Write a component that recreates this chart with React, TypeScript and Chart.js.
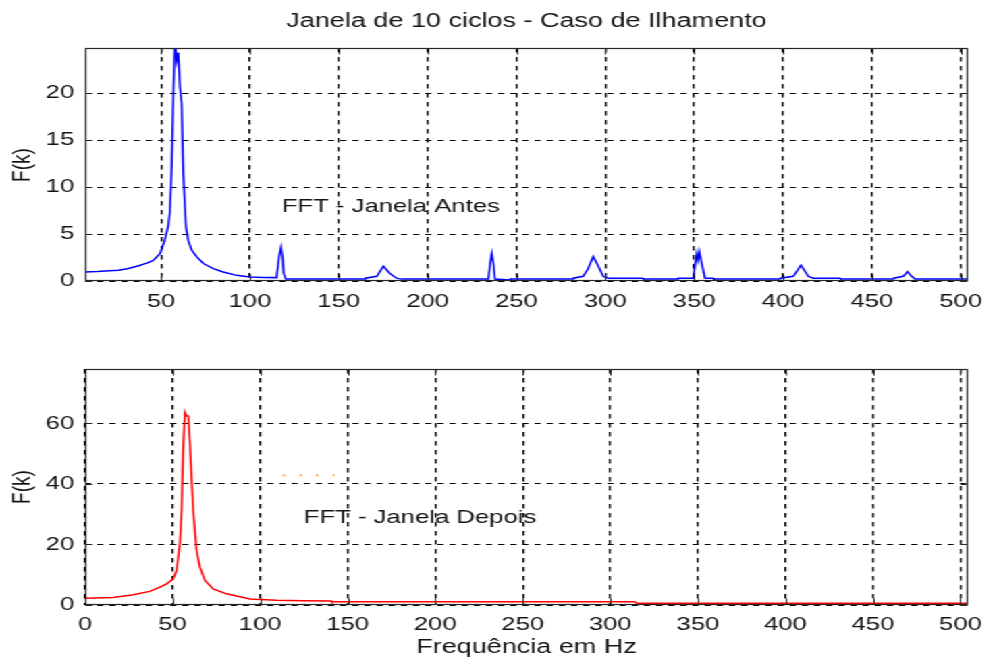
import React, { useEffect, useRef } from "react";
import { Chart, registerables } from "chart.js";

Chart.register(...registerables);

// ---------- data ----------
const chartTitle = "Janela de 10 ciclos - Caso de Ilhamento";
const xAxisLabel = "Frequência em Hz";
const yAxisLabel = "F(k)";
const noteAntes = "FFT - Janela Antes";
const noteDepois = "FFT - Janela Depois";

const xTickStep = 50;
const yTickStepAntes = 5;
const yTickStepDepois = 20;

const freqAntes = [
  7.2, 14, 21, 26, 31, 37, 42, 45.6, 49.4, 52, 54, 55, 56, 57, 57.8, 58.8, 59.7, 60.6, 61.6, 62.5,
  64, 65.3, 67.2, 70, 73.8, 79.4, 85, 92.5, 100, 108, 115, 116.4, 117.5, 118.4, 119, 120.2,
  164.8, 165, 171.4, 175.1, 178.8, 182.5, 185.3,
  234.2, 235.2, 236.1, 237.0, 237.9, 246, 246.5,
  281.9, 282, 287.5, 290.3, 293.2, 296, 298.8, 301.6, 321, 321.5,
  340.8, 341, 349.5, 351.4, 352.2, 352.9, 354.2, 356.1, 360.8, 361,
  398.3, 398.5, 405.8, 410.1, 414.2, 417, 432, 432.5,
  462.1, 462.3, 467.7, 470, 472.4, 474.3, 504.1,
];
const magAntes = [
  0.96, 1.0, 1.1, 1.15, 1.3, 1.6, 1.9, 2.2, 2.9, 4.3, 5.8, 7.4, 12.2, 20.7, 25.5, 23.4, 24.3, 20.7, 18.9, 11.5,
  5.8, 4.3, 3.3, 2.6, 1.86, 1.32, 0.96, 0.6, 0.43, 0.38, 0.36, 2.56, 3.6, 2.5, 0.8, 0.2,
  0.2, 0.3, 0.5, 1.57, 0.8, 0.3, 0.2,
  0.2, 1.9, 2.9, 1.9, 0.2, 0.1, 0.2,
  0.2, 0.3, 0.5, 1.3, 2.6, 1.6, 0.5, 0.3, 0.3, 0.2,
  0.2, 0.3, 0.3, 2.9, 2.2, 3.1, 1.9, 0.3, 0.3, 0.2,
  0.2, 0.3, 0.5, 1.68, 0.5, 0.3, 0.3, 0.2,
  0.2, 0.3, 0.5, 1.0, 0.5, 0.2, 0.2,
];

const freqDepois = [
  0, 16, 27.6, 37, 42.8, 46.6, 50.4, 52.3, 54.2, 55.2, 56.1, 57.1, 58, 59, 59.9, 60.9, 61.8,
  63.7, 65.6, 68.5, 73.2, 80.8, 94.2, 109.4, 125, 140.8, 141, 314, 315, 504.3,
];
const magDepois = [
  2.2, 2.5, 3.4, 4.5, 5.9, 7, 8.7, 11.4, 20.3, 31.4, 52.5, 63.7, 62.5, 62.5, 53.7, 41.4, 31.4,
  18.1, 12.5, 8.1, 5.3, 3.7, 2.0, 1.6, 1.4, 1.3, 1.05, 1.05, 0.6, 0.6,
];

const freqArtefato = [113, 142.5];
const magArtefato = [42.9, 42.9];

// ---------- layout (final px are divided by the horizontal stretch) ----------
const K = 1.35;
const W = 728;
const FONT = "'Liberation Sans', Arial, sans-serif";
const INK = "#141414";

const toPts = (xs: number[], ys: number[]) => xs.map((x, i) => ({ x, y: ys[i] }));

function decorPlugin(o: {
  note: string;
  noteX: number;
  noteY: number;
  labelY: number;
  title?: string;
  titleY?: number;
  xLabel?: string;
  xLabelY?: number;
}) {
  return {
    id: "decor",
    afterDatasetsDraw(chart: any) {
      const { ctx, chartArea: a, scales } = chart;
      const xs = scales.x;
      const ys = scales.y;
      ctx.save();
      ctx.fillStyle = INK;
      ctx.font = `19px ${FONT}`;
      ctx.textAlign = "left";
      ctx.textBaseline = "middle";
      ctx.fillText(o.note, xs.getPixelForValue(o.noteX), ys.getPixelForValue(o.noteY));

      // box
      ctx.setLineDash([]);
      ctx.strokeStyle = "#262626";
      ctx.lineWidth = 1.2;
      const L = Math.round(a.left) + 0.5;
      const R = Math.round(a.right) - 0.5;
      const T = Math.round(a.top) + 0.5;
      const B = Math.round(a.bottom) - 0.5;
      ctx.strokeRect(L, T, R - L, B - T);

      // inward ticks on all sides
      ctx.lineWidth = 1;
      ctx.beginPath();
      for (const t of xs.ticks) {
        const p = Math.round(xs.getPixelForValue(t.value)) + 0.5;
        ctx.moveTo(p, B);
        ctx.lineTo(p, B - 6);
        ctx.moveTo(p, T);
        ctx.lineTo(p, T + 6);
      }
      for (const t of ys.ticks) {
        const p = Math.round(ys.getPixelForValue(t.value)) + 0.5;
        ctx.moveTo(L, p);
        ctx.lineTo(L + 5, p);
        ctx.moveTo(R, p);
        ctx.lineTo(R - 5, p);
      }
      ctx.stroke();

      // y label
      ctx.save();
      ctx.translate(22 / K, o.labelY);
      ctx.rotate(-Math.PI / 2);
      ctx.textAlign = "center";
      ctx.textBaseline = "middle";
      ctx.font = `19px ${FONT}`;
      ctx.fillText(yAxisLabel, 0, 0);
      ctx.restore();

      const cx = (a.left + a.right) / 2;
      if (o.title) {
        ctx.textAlign = "center";
        ctx.textBaseline = "middle";
        ctx.font = `20px ${FONT}`;
        ctx.fillText(o.title, cx, o.titleY);
      }
      if (o.xLabel) {
        ctx.textAlign = "center";
        ctx.textBaseline = "middle";
        ctx.font = `20px ${FONT}`;
        ctx.fillText(o.xLabel, cx, o.xLabelY);
      }
      ctx.restore();
    },
  };
}

function makeConfig(p: {
  datasets: any[];
  xMin: number;
  xMax: number;
  yMax: number;
  yStep: number;
  top: number;
  xAxisHeight: number;
  xPad: number;
  plugin: any;
}) {
  return {
    type: "line" as const,
    data: { datasets: p.datasets },
    options: {
      animation: false as const,
      responsive: false,
      devicePixelRatio: 1,
      layout: { padding: { left: 0, right: W - 968 / K, top: p.top, bottom: 0 } },
      plugins: { legend: { display: false }, tooltip: { enabled: false }, title: { display: false } },
      elements: { point: { radius: 0 }, line: { tension: 0 } },
      scales: {
        x: {
          type: "linear" as const,
          min: p.xMin,
          max: p.xMax,
          ticks: {
            stepSize: xTickStep,
            includeBounds: false,
            maxRotation: 0,
            autoSkip: false,
            padding: p.xPad,
            color: INK,
            font: { family: FONT, size: 19 },
          },
          grid: { color: "#000", lineWidth: 1.4, drawTicks: false },
          border: { display: false, dash: [4.5, 4.5] },
          afterFit: (s: any) => {
            s.height = p.xAxisHeight;
            s.paddingLeft = 0;
            s.paddingRight = 0;
          },
        },
        y: {
          type: "linear" as const,
          min: 0,
          max: p.yMax,
          ticks: {
            stepSize: p.yStep,
            includeBounds: false,
            padding: 8,
            color: INK,
            font: { family: FONT, size: 19 },
          },
          grid: { color: "#000", lineWidth: 1, drawTicks: false },
          border: { display: false, dash: [4.5, 4.5] },
          afterFit: (s: any) => {
            s.width = 85 / K;
            s.paddingTop = 0;
            s.paddingBottom = 0;
          },
        },
      },
    },
    plugins: [p.plugin],
  };
}

export default function App() {
  const topRef = useRef<HTMLCanvasElement>(null);
  const botRef = useRef<HTMLCanvasElement>(null);

  useEffect(() => {
    const top = new Chart(
      topRef.current as HTMLCanvasElement,
      makeConfig({
        datasets: [
          {
            label: noteAntes,
            data: toPts(freqAntes, magAntes),
            borderColor: "#0000ff",
            borderWidth: 1.5,
            pointRadius: 0,
            fill: false,
          },
        ],
        xMin: 7.2,
        xMax: 504.1,
        yMax: 24.8,
        yStep: yTickStepAntes,
        top: 48,
        xAxisHeight: 330 - 281,
        xPad: 9,
        plugin: decorPlugin({
          note: noteAntes,
          noteX: 117.9,
          noteY: 7.9,
          labelY: 165,
          title: chartTitle,
          titleY: 21,
        }),
      }) as any
    );
    const bot = new Chart(
      botRef.current as HTMLCanvasElement,
      makeConfig({
        datasets: [
          {
            label: noteDepois,
            data: toPts(freqDepois, magDepois),
            borderColor: "#ff0000",
            borderWidth: 1.5,
            pointRadius: 0,
            fill: false,
          },
          {
            label: "artefato",
            data: toPts(freqArtefato, magArtefato),
            borderColor: "#f59a40",
            borderWidth: 2,
            borderDash: [1.5, 10.85],
            pointRadius: 0,
            fill: false,
          },
        ],
        xMin: 0,
        xMax: 504.3,
        yMax: 78,
        yStep: yTickStepDepois,
        top: 39,
        xAxisHeight: 334 - 275,
        xPad: 8,
        plugin: decorPlugin({
          note: noteDepois,
          noteX: 125,
          noteY: 28.8,
          labelY: 157,
          xLabel: xAxisLabel,
          xLabelY: 317,
        }),
      }) as any
    );
    return () => {
      top.destroy();
      bot.destroy();
    };
  }, []);

  return (
    <div style={{ position: "fixed", left: 0, top: 0, width: 983, height: 664, background: "#fff", overflow: "hidden" }}>
      <div
        style={{
          position: "absolute",
          left: 0,
          top: 0,
          width: W,
          height: 664,
          transform: `scaleX(${K})`,
          transformOrigin: "0 0",
        }}
      >
        <canvas ref={topRef} width={W} height={330} style={{ position: "absolute", left: 0, top: 0 }} />
        <canvas ref={botRef} width={W} height={334} style={{ position: "absolute", left: 0, top: 330 }} />
      </div>
    </div>
  );
}
